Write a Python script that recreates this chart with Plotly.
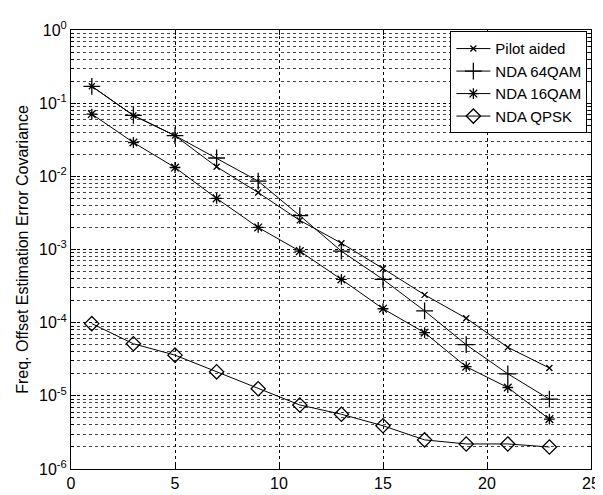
import plotly.graph_objects as go

x_vals = [1, 3, 5, 7, 9, 11, 13, 15, 17, 19, 21, 23]
pilot = [0.17, 0.068, 0.036, 0.0135, 0.006, 0.0025, 0.00122, 0.00055, 0.00024, 0.000115, 4.6e-5, 2.4e-5]
qam64 = [0.17, 0.068, 0.036, 0.0178, 0.0086, 0.0029, 0.00095, 0.00039, 0.000145, 5.0e-5, 2.0e-5, 9.0e-6]
qam16 = [0.071, 0.029, 0.0132, 0.005, 0.002, 0.00095, 0.00039, 0.000155, 7.3e-5, 2.5e-5, 1.3e-5, 4.8e-6]
qpsk = [9.7e-5, 5.15e-5, 3.6e-5, 2.13e-5, 1.25e-5, 7.5e-6, 5.6e-6, 3.9e-6, 2.5e-6, 2.2e-6, 2.2e-6, 2.0e-6]

series_names = ["Pilot aided", "NDA 64QAM", "NDA 16QAM", "NDA QPSK"]
x_ticks = [0, 5, 10, 15, 20, 25]
y_exps = [0, -1, -2, -3, -4, -5, -6]

FONT = "Liberation Sans, Arial, sans-serif"

fig = go.Figure()
styles = [
    dict(symbol="x-thin-open", size=6),
    dict(symbol="cross-thin-open", size=12),
    dict(symbol="asterisk-open", size=9),
    dict(symbol="diamond-open", size=11),
]
for name, ys, st in zip(series_names, [pilot, qam64, qam16, qpsk], styles):
    fig.add_trace(go.Scatter(
        x=x_vals, y=ys, name=name, mode="lines+markers",
        line=dict(color="black", width=1),
        marker=dict(symbol=st["symbol"], size=st["size"], color="black",
                    line=dict(color="black", width=1.3)),
    ))

minor_vals = [k * 10.0 ** e for e in range(-6, 0) for k in range(2, 10)]

fig.update_layout(
    width=603, height=495,
    margin=dict(l=63, r=11, t=22, b=24),
    paper_bgcolor="white", plot_bgcolor="white",
    font=dict(family=FONT, size=15, color="black"),
    showlegend=True,
    legend=dict(x=0.993, xanchor="right", y=0.997, yanchor="top",
                bgcolor="white", bordercolor="black", borderwidth=1,
                font=dict(family=FONT, size=15, color="black"),
                itemwidth=34, tracegroupgap=0,
                entrywidth=112, entrywidthmode="pixels"),
    xaxis=dict(range=[0, 25], tickvals=x_ticks, ticktext=[str(v) for v in x_ticks],
               showgrid=True, gridcolor="black", griddash="dot", gridwidth=1,
               ticks="inside", ticklen=5, tickcolor="black",
               showline=True, linecolor="black", linewidth=1, mirror="ticks",
               zeroline=False, tickfont=dict(size=16)),
    yaxis=dict(type="log", range=[-6, 0],
               tickvals=[10.0 ** e for e in y_exps],
               ticktext=["10<sup>%d</sup>" % e for e in y_exps],
               showgrid=True, gridcolor="black", griddash="dot", gridwidth=1,
               ticks="inside", ticklen=5, tickcolor="black",
               showline=True, linecolor="black", linewidth=1, mirror="ticks",
               zeroline=False, tickfont=dict(size=16),
               title=dict(text="Freq. Offset Estimation Error Covariance",
                          font=dict(size=16), standoff=6),
               minor=dict(tickmode="array", tickvals=minor_vals,
                          showgrid=True, gridcolor="#444", griddash="dot", gridwidth=1,
                          ticks="inside", ticklen=3, tickcolor="black")),
)

fig.write_html("out.html")
